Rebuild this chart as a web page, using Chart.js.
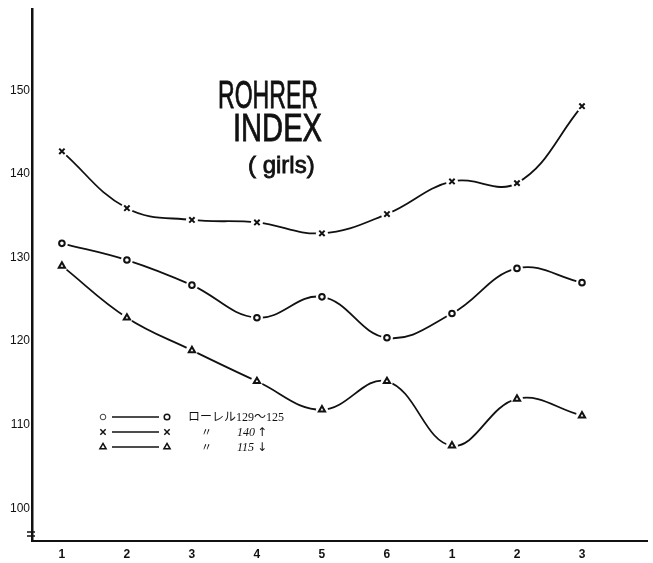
<!DOCTYPE html>
<html>
<head>
<meta charset="utf-8">
<script src="https://cdn.jsdelivr.net/npm/chart.js@4/dist/chart.umd.min.js"></script>
<style>
    html, body { margin:0; padding:0; background:#fff; }
    #wrap { width:653px; height:563px; position:relative; }
</style>
</head>
<body>
<div id="wrap"><canvas id="rohrerChart"></canvas></div>
<script>

/*
=================================
DATA
=================================
*/

const xLabels =
    ["1","2","3","4","5","6","1","2","3"];

const crossValues =
    [142.7,135.9,134.5,134.2,132.9,135.2,139.1,138.9,148.1];

const circleValues =
    [131.7,129.7,126.7,122.8,125.3,120.4,123.3,128.7,127.0];

const triangleValues =
    [129.0,122.8,118.9,115.2,111.8,115.2,107.5,113.1,111.1];

const yTicks =
    [100,110,120,130,140,150];

const legendRows = [
    { style:"circle",   label:"ローレル129～125", mark:"",  arrow:"" },
    { style:"crossRot", label:"〃",               mark:"140", arrow:"↑" },
    { style:"triangle", label:"〃",               mark:"115", arrow:"↓" }
];

const INK = "#111";

/*
=================================
DATASETS
=================================
*/

function toPoints(values){

    return values.map((v,i) => ({ x:i, y:v }));
}

function markerRadius(style){

    if(style === "circle") return 2.8;
    if(style === "triangle") return 3.6;
    return 3.8;
}

function lineSet(values){

    return {
        data: toPoints(values),
        borderColor: INK,
        borderWidth: 1.8,
        tension: 0.4,
        pointRadius: 0,
        fill: false,
        order: 3
    };
}

function haloSet(values){

    return {
        data: toPoints(values),
        showLine: false,
        pointStyle: "circle",
        pointRadius: 6,
        pointBorderWidth: 0,
        pointBackgroundColor: "#fff",
        order: 2
    };
}

function markerSet(values, style){

    return {
        data: toPoints(values),
        showLine: false,
        pointStyle: style,
        pointRadius: markerRadius(style),
        pointBorderWidth: 2,
        pointBorderColor: INK,
        pointBackgroundColor: "#fff",
        order: 1
    };
}

const seriesList = [
    [crossValues, "crossRot"],
    [circleValues, "circle"],
    [triangleValues, "triangle"]
];

const datasets = [];

seriesList.forEach(([values, style]) => {

    datasets.push(lineSet(values));
    datasets.push(haloSet(values));
    datasets.push(markerSet(values, style));
});

/*
=================================
TITLE, LEGEND, AXIS BREAK
=================================
*/

function legendMarker(ctx, style, x, y){

    ctx.fillStyle = "#fff";
    ctx.strokeStyle = INK;

    Chart.helpers.drawPoint(ctx, {
        pointStyle: style,
        radius: markerRadius(style),
        borderWidth: 2
    }, x, y);

    ctx.fillStyle = INK;
}

const decorPlugin = {

    id: "decor",

    afterDraw(chart){

        const ctx = chart.ctx;
        const area = chart.chartArea;

        ctx.save();
        ctx.fillStyle = INK;
        ctx.strokeStyle = INK;
        ctx.textBaseline = "alphabetic";
        ctx.textAlign = "left";

        // title
        ctx.lineWidth = 0.8;
        ctx.font = "38px 'Liberation Sans', Arial, sans-serif";
        ctx.fillText("ROHRER", 218, 108, 100);
        ctx.strokeText("ROHRER", 218, 108, 100);
        ctx.fillText("INDEX", 233, 141, 89);
        ctx.strokeText("INDEX", 233, 141, 89);

        ctx.font = "24px 'Liberation Sans', Arial, sans-serif";
        ctx.fillText("( girls)", 248, 173, 76);
        ctx.strokeText("( girls)", 248, 173, 76);

        // legend
        legendRows.forEach((row, i) => {

            const y = 417 + i * 15;

            legendMarker(ctx, row.style, 103, y);

            ctx.lineWidth = 1.5;
            ctx.beginPath();
            ctx.moveTo(112, y);
            ctx.lineTo(159, y);
            ctx.stroke();

            legendMarker(ctx, row.style, 167, y);

            if(row.mark){

                ctx.font = "11px 'Noto Sans CJK JP', sans-serif";
                ctx.fillText(row.label, 201, y + 4);

                ctx.font = "italic 12px 'Liberation Serif', serif";
                ctx.fillText(row.mark, 237, y + 4);

                ctx.font = "12px 'DejaVu Sans', sans-serif";
                ctx.fillText(row.arrow, 257, y + 4);

            }else{

                ctx.font = "12px 'Liberation Serif', 'Noto Sans CJK JP', serif";
                ctx.fillText(row.label, 188, y + 4);
            }
        });

        // break mark on the y axis
        ctx.lineWidth = 1.5;
        [area.bottom - 9, area.bottom - 5].forEach(by => {

            ctx.beginPath();
            ctx.moveTo(area.left - 5, by);
            ctx.lineTo(area.left + 3, by);
            ctx.stroke();
        });

        ctx.restore();
    }
};

/*
=================================
CHART
=================================
*/

new Chart(
    document.getElementById("rohrerChart"),
    {
        type: "line",

        data: { datasets: datasets },

        options: {

            responsive: true,
            maintainAspectRatio: false,
            animation: false,

            layout: {
                padding: { top: 8, right: 0, left: 0, bottom: 0 }
            },

            plugins: {
                legend: { display: false },
                tooltip: { enabled: false }
            },

            scales: {

                x: {
                    type: "linear",
                    min: -0.46,
                    max: 9.0,
                    afterBuildTicks: scale => {
                        scale.ticks = xLabels.map((l,i) => ({ value:i }));
                    },
                    afterFit: scale => { scale.height = 22; },
                    grid: { display: false, drawTicks: false },
                    border: { display: true, color: INK, width: 2 },
                    ticks: {
                        color: INK,
                        padding: 6,
                        autoSkip: false,
                        maxRotation: 0,
                        font: { family: "'Liberation Sans', sans-serif", size: 12, weight: "bold" },
                        callback: value => xLabels[value] ?? ""
                    }
                },

                y: {
                    min: 96.1,
                    max: 159.7,
                    afterBuildTicks: scale => {
                        scale.ticks = yTicks.map(v => ({ value:v }));
                    },
                    afterFit: scale => { scale.width = 32; },
                    grid: { display: false, drawTicks: false },
                    border: { display: true, color: INK, width: 2.5 },
                    ticks: {
                        color: INK,
                        padding: 2,
                        font: { family: "'Liberation Sans', sans-serif", size: 12 },
                        callback: value => String(value)
                    }
                }
            }
        },

        plugins: [decorPlugin]
    }
);

</script>
</body>
</html>
